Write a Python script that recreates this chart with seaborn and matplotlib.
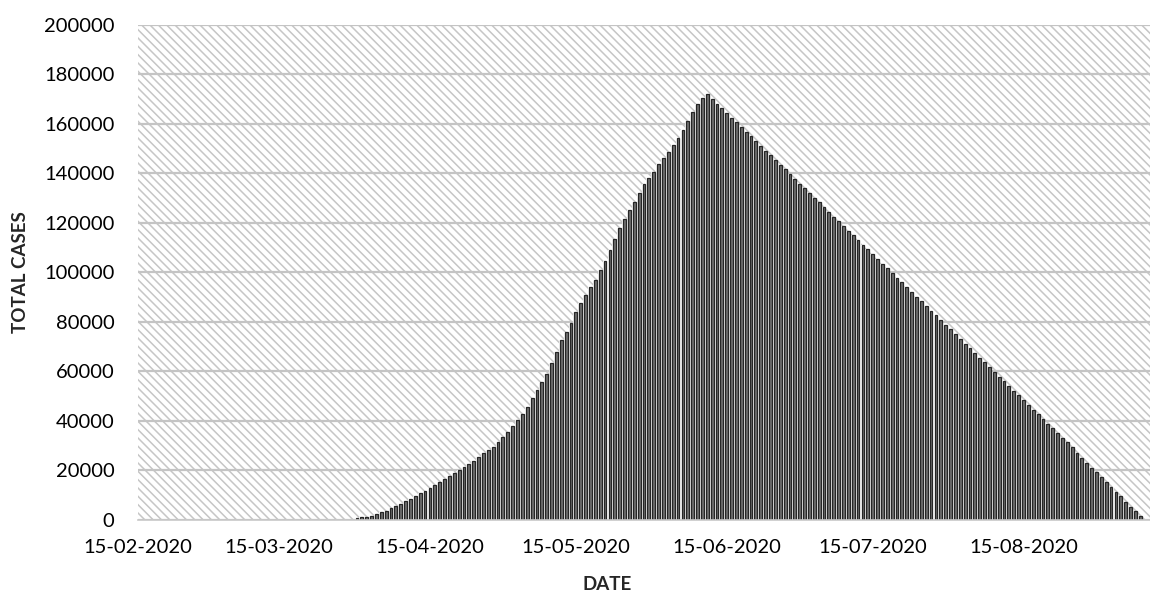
import pandas as pd
import numpy as np
import matplotlib
matplotlib.use("Agg")
import matplotlib.pyplot as plt
import matplotlib.dates as mdates
import seaborn as sns

# daily total cases, first bar on 31-03-2020
first_day = "2020-03-31"
rise_cases = [
    800, 1100, 1400, 1800, 2400, 3100, 3800, 4700, 5600, 6500,
    7500, 8500, 9600, 10700, 11900, 13100, 14300, 15500, 16700, 17900,
    19100, 20300, 21500, 22700, 24000, 25500, 27000, 28300, 29600, 31500,
    33500, 35700, 38000, 40200, 42700, 45800, 49100, 52400, 55800, 59000,
    63500, 68000, 72500, 76000, 79500, 84000, 87500, 91000, 94000, 97000,
    101000, 104500, 109000, 113500, 118000, 121500, 125000, 128500, 132000, 135500,
    138000, 140500, 143500, 146000, 148500, 151500, 154000, 157500, 161000, 164500,
    168000, 170500, 172000,
]
fall_cases = [
    170000, 168100, 166200, 164300, 162400, 160500, 158600, 156700, 154800, 152900,
    151000, 149100, 147200, 145300, 143400, 141500, 139600, 137700, 135800, 133900,
    132000, 130100, 128200, 126300, 124400, 122500, 120600, 118700, 116800, 114900,
    113000, 111100, 109200, 107300, 105400, 103500, 101600, 99700, 97800, 95900,
    94000, 92100, 90200, 88300, 86400, 84500, 82600, 80700, 78800, 76900,
    75000, 73100, 71200, 69300, 67400, 65500, 63600, 61700, 59800, 57900,
    56000, 54100, 52200, 50300, 48400, 46500, 44600, 42700, 40800, 38900,
    37000, 35100, 33200, 31300, 29400, 27000, 25000, 23000, 21000, 19200,
    17300, 15400, 13500, 11500, 9500, 7300, 5200, 3500, 1800,
]
tick_dates = ["2020-02-15", "2020-03-15", "2020-04-15", "2020-05-15",
              "2020-06-15", "2020-07-15", "2020-08-15"]
y_ticks = [0, 20000, 40000, 60000, 80000, 100000, 120000, 140000, 160000, 180000, 200000]

cases = rise_cases + fall_cases
dates = pd.date_range(first_day, periods=len(cases), freq="D")
df = pd.DataFrame({"day": mdates.date2num(dates), "cases": cases})

sns.set_style("white")
plt.rcParams["font.family"] = ["Lato", "DejaVu Sans"]
plt.rcParams["hatch.color"] = "#c6c6c6"
plt.rcParams["hatch.linewidth"] = 1.1

fig = plt.figure(figsize=(11.5, 5.91), dpi=100)
ax = fig.add_axes([138 / 1150, 71 / 591, 1012 / 1150, 495.5 / 591])

# hatched plot area
ax.patch.set_facecolor("white")
ax.patch.set_edgecolor("#c6c6c6")
ax.patch.set_linewidth(0)
ax.patch.set_hatch("\\\\\\\\")

# white backing so the gaps between bars are clear, then the dark bars
sns.barplot(data=df, x="day", y="cases", native_scale=True, width=1.0,
            color="white", edgecolor="none", linewidth=0, errorbar=None,
            saturation=1, ax=ax)
sns.barplot(data=df, x="day", y="cases", native_scale=True, width=0.58,
            color="#707070", edgecolor="#262626", linewidth=0.9, errorbar=None,
            saturation=1, ax=ax)

ax.set_axisbelow(True)
ax.grid(axis="y", color="#c4c4c4", linewidth=1.6)
ax.grid(axis="x", visible=False)

ax.set_ylim(0, 200000)
ax.set_yticks(y_ticks)
ax.set_yticklabels([str(v) for v in y_ticks])

x_left = mdates.date2num(pd.Timestamp("2020-02-15"))
x_right = mdates.date2num(pd.Timestamp("2020-09-10"))
ax.set_xlim(x_left, x_right)
tick_nums = mdates.date2num(pd.to_datetime(tick_dates))
ax.set_xticks(tick_nums)
ax.set_xticklabels([pd.Timestamp(d).strftime("%d-%m-%Y") for d in tick_dates])

for s in ["top", "right", "left"]:
    ax.spines[s].set_visible(False)
ax.spines["bottom"].set_color("#c8c8c8")
ax.spines["bottom"].set_linewidth(1.2)

ax.tick_params(axis="y", length=0, pad=17, labelsize=14.5, colors="black")
ax.tick_params(axis="x", direction="out", length=6, width=1, color="#c8c8c8",
               pad=8, labelsize=14.5, labelcolor="black")

ax.set_xlabel("DATE", fontsize=13.5, fontweight="bold")
ax.set_ylabel("TOTAL CASES", fontsize=13.5, fontweight="bold")
ax.xaxis.set_label_coords((607 - 138) / 1012, (520 - 576) / 495.5)
ax.yaxis.set_label_coords((29 - 138) / 1012, 0.5)

fig.savefig("out.png", dpi=100)
